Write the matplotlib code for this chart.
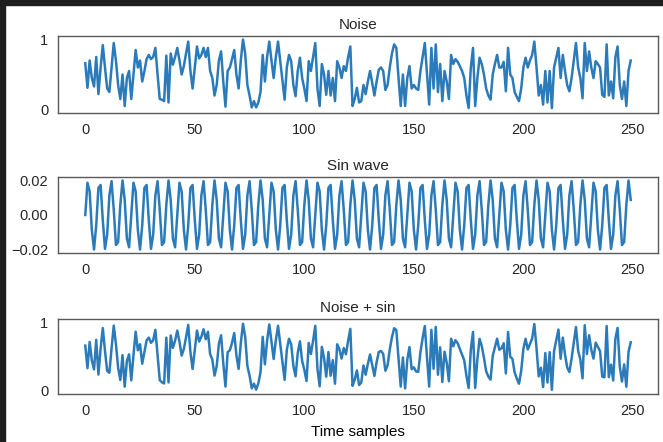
import numpy as np
import matplotlib
matplotlib.use("Agg")
import matplotlib.pyplot as plt
from matplotlib.patches import Rectangle

# noise samples (one per time step)
noise = [
    0.66, 0.31, 0.70, 0.45, 0.33, 0.75, 0.22, 0.60, 0.92, 0.60,
    0.30, 0.25, 0.60, 0.95, 0.70, 0.35, 0.15, 0.50, 0.05, 0.45,
    0.55, 0.15, 0.50, 0.85, 0.60, 0.70, 0.40, 0.55, 0.72, 0.78,
    0.72, 0.75, 0.88, 0.50, 0.15, 0.14, 0.12, 0.77, 0.10, 0.80,
    0.64, 0.75, 0.88, 0.70, 0.50, 0.62, 0.80, 0.97, 0.55, 0.30,
    0.60, 0.90, 0.73, 0.78, 0.88, 0.75, 0.88, 0.55, 0.45, 0.20,
    0.35, 0.70, 0.83, 0.40, 0.04, 0.55, 0.60, 0.72, 0.85, 0.50,
    0.30, 0.70, 1.00, 0.80, 0.35, 0.20, 0.03, 0.12, 0.03, 0.10,
    0.25, 0.78, 0.40, 0.75, 0.97, 0.70, 0.45, 0.75, 0.97, 0.69,
    0.40, 0.14, 0.60, 0.78, 0.69, 0.35, 0.19, 0.55, 0.74, 0.45,
    0.30, 0.12, 0.69, 0.55, 0.75, 0.95, 0.30, 0.05, 0.65, 0.50,
    0.21, 0.55, 0.20, 0.45, 0.12, 0.69, 0.60, 0.45, 0.62, 0.55,
    0.75, 0.90, 0.05, 0.15, 0.31, 0.10, 0.12, 0.35, 0.22, 0.40,
    0.55, 0.38, 0.20, 0.40, 0.57, 0.60, 0.55, 0.28, 0.35, 0.60,
    0.80, 0.93, 0.88, 0.45, 0.05, 0.50, 0.05, 0.45, 0.62, 0.30,
    0.35, 0.30, 0.28, 0.55, 0.75, 0.95, 0.50, 0.07, 0.88, 0.30,
    0.93, 0.25, 0.65, 0.12, 0.55, 0.40, 0.15, 0.78, 0.65, 0.72,
    0.68, 0.62, 0.55, 0.45, 0.20, 0.02, 0.60, 0.88, 0.05, 0.45,
    0.74, 0.65, 0.50, 0.30, 0.20, 0.14, 0.50, 0.65, 0.78, 0.60,
    0.60, 0.68, 0.26, 0.88, 0.50, 0.45, 0.25, 0.18, 0.12, 0.30,
    0.60, 0.74, 0.60, 0.70, 0.78, 0.97, 0.60, 0.20, 0.35, 0.07,
    0.55, 0.10, 0.55, 0.02, 0.60, 0.74, 0.88, 0.45, 0.78, 0.55,
    0.35, 0.26, 0.45, 0.70, 0.95, 0.60, 0.45, 0.16, 0.95, 0.55,
    0.83, 0.60, 0.45, 0.69, 0.65, 0.60, 0.21, 0.18, 0.93, 0.20,
    0.40, 0.16, 0.75, 0.90, 0.35, 0.15, 0.40, 0.05, 0.55, 0.70,
]

# sin wave samples (pattern repeats every 21 samples)
sin_wave = [
    0.0, 0.0186, 0.0136, -0.0087, -0.0199, -0.0059, 0.0156, 0.0173, -0.0030, -0.0195, -0.0113,
    0.0113, 0.0195, 0.0030, -0.0173, -0.0156, 0.0059, 0.0199, 0.0087, -0.0136, -0.0186,
    0.0, 0.0186, 0.0136, -0.0087, -0.0199, -0.0059, 0.0156, 0.0173, -0.0030, -0.0195, -0.0113,
    0.0113, 0.0195, 0.0030, -0.0173, -0.0156, 0.0059, 0.0199, 0.0087, -0.0136, -0.0186,
    0.0, 0.0186, 0.0136, -0.0087, -0.0199, -0.0059, 0.0156, 0.0173, -0.0030, -0.0195, -0.0113,
    0.0113, 0.0195, 0.0030, -0.0173, -0.0156, 0.0059, 0.0199, 0.0087, -0.0136, -0.0186,
    0.0, 0.0186, 0.0136, -0.0087, -0.0199, -0.0059, 0.0156, 0.0173, -0.0030, -0.0195, -0.0113,
    0.0113, 0.0195, 0.0030, -0.0173, -0.0156, 0.0059, 0.0199, 0.0087, -0.0136, -0.0186,
    0.0, 0.0186, 0.0136, -0.0087, -0.0199, -0.0059, 0.0156, 0.0173, -0.0030, -0.0195, -0.0113,
    0.0113, 0.0195, 0.0030, -0.0173, -0.0156, 0.0059, 0.0199, 0.0087, -0.0136, -0.0186,
    0.0, 0.0186, 0.0136, -0.0087, -0.0199, -0.0059, 0.0156, 0.0173, -0.0030, -0.0195, -0.0113,
    0.0113, 0.0195, 0.0030, -0.0173, -0.0156, 0.0059, 0.0199, 0.0087, -0.0136, -0.0186,
    0.0, 0.0186, 0.0136, -0.0087, -0.0199, -0.0059, 0.0156, 0.0173, -0.0030, -0.0195, -0.0113,
    0.0113, 0.0195, 0.0030, -0.0173, -0.0156, 0.0059, 0.0199, 0.0087, -0.0136, -0.0186,
    0.0, 0.0186, 0.0136, -0.0087, -0.0199, -0.0059, 0.0156, 0.0173, -0.0030, -0.0195, -0.0113,
    0.0113, 0.0195, 0.0030, -0.0173, -0.0156, 0.0059, 0.0199, 0.0087, -0.0136, -0.0186,
    0.0, 0.0186, 0.0136, -0.0087, -0.0199, -0.0059, 0.0156, 0.0173, -0.0030, -0.0195, -0.0113,
    0.0113, 0.0195, 0.0030, -0.0173, -0.0156, 0.0059, 0.0199, 0.0087, -0.0136, -0.0186,
    0.0, 0.0186, 0.0136, -0.0087, -0.0199, -0.0059, 0.0156, 0.0173, -0.0030, -0.0195, -0.0113,
    0.0113, 0.0195, 0.0030, -0.0173, -0.0156, 0.0059, 0.0199, 0.0087, -0.0136, -0.0186,
    0.0, 0.0186, 0.0136, -0.0087, -0.0199, -0.0059, 0.0156, 0.0173, -0.0030, -0.0195, -0.0113,
    0.0113, 0.0195, 0.0030, -0.0173, -0.0156, 0.0059, 0.0199, 0.0087, -0.0136, -0.0186,
    0.0, 0.0186, 0.0136, -0.0087, -0.0199, -0.0059, 0.0156, 0.0173, -0.0030, -0.0195, -0.0113,
    0.0113, 0.0195, 0.0030, -0.0173, -0.0156, 0.0059, 0.0199, 0.0087,
]

titles = ['Noise', 'Sin wave', 'Noise + sin']
xticks = [0, 50, 100, 150, 200, 250]
yticks = [[0, 1], [-0.02, 0.0, 0.02], [0, 1]]
ytick_labels = [['0', '1'], ['\u22120.02', '0.00', '0.02'], ['0', '1']]

noise = np.array(noise)
sin_wave = np.array(sin_wave)
series = [noise, sin_wave, noise + sin_wave]

plt.rcParams['font.family'] = ['Liberation Sans', 'DejaVu Sans']
plt.rcParams['text.color'] = '0.15'
plt.rcParams['xtick.color'] = '0.15'
plt.rcParams['ytick.color'] = '0.15'

fig = plt.figure(figsize=(6.63, 4.42), dpi=100)
fig.patch.set_facecolor('white')

# axes boxes in pixels (top, bottom)
boxes = [(36, 113), (177, 253), (319, 394)]
W, H = 663.0, 442.0
left, right = 58, 658

for i, (top, bot) in enumerate(boxes):
    ax = fig.add_axes([left / W, 1 - bot / H, (right - left) / W, (bot - top) / H])
    ax.plot(np.arange(len(series[i])), series[i], color='#2b7bba', lw=1.8)
    ax.set_title(titles[i], fontsize=11, pad=5)
    ax.set_xticks(xticks)
    ax.set_yticks(yticks[i])
    ax.set_yticklabels(ytick_labels[i])
    ax.set_xlim(-12.45, 261.45)
    if i != 1:
        ax.set_ylim(-0.05, 1.05)
    ax.tick_params(length=0, labelsize=10.5, pad=7)
    for s in ax.spines.values():
        s.set_color('0.35')
        s.set_linewidth(1.0)
    if i == 2:
        ax.set_xlabel('Time samples', fontsize=11, labelpad=5)

# dark screenshot frame on top and left edges
fig.patches.append(Rectangle((0, 1 - 5 / H), 1, 5 / H, transform=fig.transFigure,
                             color='#1e1e1e', zorder=10))
fig.patches.append(Rectangle((0, 0), 5 / W, 1, transform=fig.transFigure,
                             color='#1e1e1e', zorder=10))

fig.savefig('out.png', dpi=100)
